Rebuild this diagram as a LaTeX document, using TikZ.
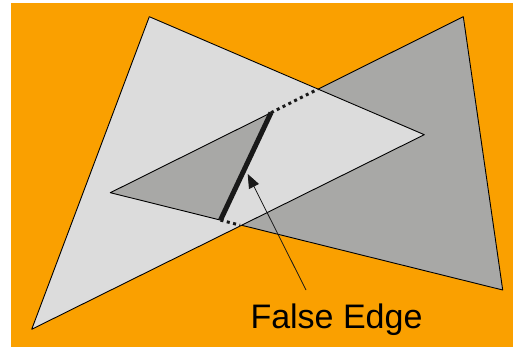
\documentclass[tikz,border=0pt]{standalone}
\usepackage{fontspec}
\setmainfont{Liberation Sans}
\usetikzlibrary{arrows.meta}
\definecolor{bgorange}{RGB}{250,160,0}
\definecolor{lightgr}{RGB}{220,220,220}
\definecolor{darkgr}{RGB}{168,168,166}
\begin{document}
\begin{tikzpicture}[x=1pt,y=-1pt,
  edge/.style={draw=black,line width=0.9pt,line join=round},
  falseedge/.style={draw=black!90,line width=5pt},
  dots/.style={draw=black!90,line width=3pt,dash pattern=on 3pt off 3.5pt},
  pointer/.style={draw=black!90,line width=0.8pt,-{Triangle[length=14pt,width=11pt]}}]
\useasboundingbox (0,0) rectangle (513,347);
\fill[white] (0,0) rectangle (513,347);
\fill[bgorange] (11,3) rectangle (513,347);
% vertices
\coordinate (LT) at (149.3,16.7);
\coordinate (LB) at (31.7,329.3);
\coordinate (LR) at (424.3,134.7);
\coordinate (DT) at (463.3,16.7);
\coordinate (DB) at (502.7,290);
\coordinate (DL) at (110.3,192.7);
\coordinate (FT) at (271,112.7);
\coordinate (FB) at (220.5,220.1);
\coordinate (IT) at (317.7,89.3);
\coordinate (IB) at (240,225.2);
% dark triangle
\filldraw[fill=darkgr,edge] (DT) -- (DB) -- (DL) -- cycle;
% light triangle
\filldraw[fill=lightgr,edge] (LT) -- (LR) -- (LB) -- cycle;
% visible dark piece
\fill[darkgr] (DL) -- (FT) -- (FB) -- cycle;
\draw[edge] (FT) -- (DL) -- (FB);
% dotted hidden edges
\draw[dots] (FT) -- (IT);
\draw[dots] (FB) -- (IB);
% false edge
\draw[falseedge] (FT) -- (FB);
% label and arrow
\node[anchor=base,font=\fontsize{34}{40}\selectfont,inner sep=0pt] (lbl) at (336.5,328) {False Edge};
\coordinate (tail) at (306,290);
\coordinate (tip) at (247.7,174);
\draw[pointer] (tail) -- (tip);
\end{tikzpicture}
\end{document}
